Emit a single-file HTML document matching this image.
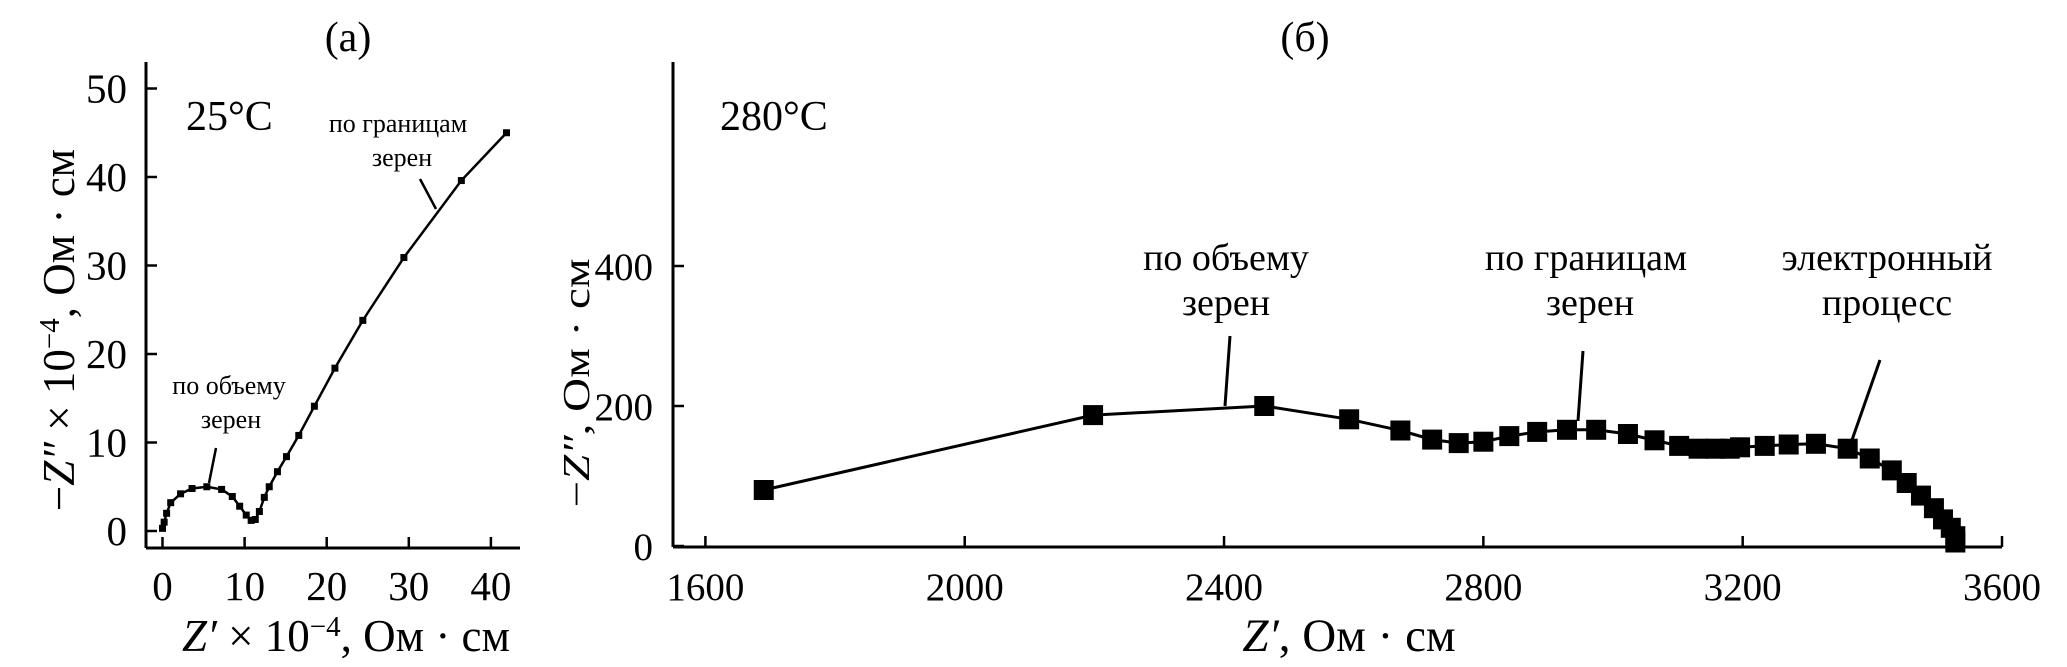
<!DOCTYPE html>
<html><head><meta charset="utf-8"><style>
html,body{margin:0;padding:0;background:#fff}
svg{display:block;font-family:"Liberation Serif","Noto Serif CJK SC",serif}
</style></head><body>
<svg id="svg" width="2067" height="667" viewBox="0 0 2067 667">
<g id="ga"></g>
<g id="gb"></g>
<text x="348" y="51" font-size="42" text-anchor="middle">(а)</text>
<text x="1305" y="51" font-size="42" text-anchor="middle">(б)</text>
<text x="186" y="130" font-size="42">25°C</text>
<text x="720" y="130" font-size="42">280°C</text>
<g font-size="26" text-anchor="middle">
<text x="398" y="132">по границам</text><text x="402" y="166">зерен</text>
<text x="229" y="394">по объему</text><text x="231" y="428">зерен</text>
</g>
<line x1="420" y1="179" x2="436" y2="209" stroke="#000" stroke-width="2.5"/>
<line x1="216" y1="448" x2="209" y2="483" stroke="#000" stroke-width="2.5"/>
<g font-size="38" text-anchor="middle">
<text x="1226" y="270">по объему</text><text x="1226" y="315">зерен</text>
<text x="1586" y="270">по границам</text><text x="1590" y="315">зерен</text>
<text x="1887" y="270">электронный</text><text x="1887" y="315">процесс</text>
</g>
<line x1="1230" y1="336" x2="1225" y2="406" stroke="#000" stroke-width="3"/>
<line x1="1583" y1="351" x2="1578" y2="421" stroke="#000" stroke-width="3"/>
<line x1="1880" y1="360" x2="1852" y2="440" stroke="#000" stroke-width="3"/>
<text x="346" y="651" font-size="45" text-anchor="middle"><tspan font-style="italic">Z′</tspan> × 10<tspan dy="-15" font-size="29">−4</tspan><tspan dy="15">, Ом · см</tspan></text>
<text transform="translate(74,330) rotate(-90)" font-size="45" text-anchor="middle">−<tspan font-style="italic">Z″</tspan> × 10<tspan dy="-15" font-size="29">−4</tspan><tspan dy="15">, Ом · см</tspan></text>
<text x="1349" y="651" font-size="47" text-anchor="middle"><tspan font-style="italic">Z′</tspan>, Ом · см</text>
<text transform="translate(589,383) rotate(-90) scale(1,0.8)" font-size="47" text-anchor="middle">−<tspan font-style="italic">Z″</tspan>, Ом · см</text>
</svg>
<script>
// Panel (a)
const aX = [0,0.2,0.5,1,2.2,3.6,5.4,7.2,8.5,9.4,10.2,10.8,11.3,11.8,12.4,13.0,14.0,15.1,16.6,18.5,21,24.4,29.4,36.4,41.9];
const aY = [0.3,1,2,3.2,4.2,4.8,5.0,4.7,3.9,2.8,1.8,1.2,1.3,2.2,3.8,5.0,6.7,8.4,10.8,14.1,18.4,23.8,30.9,39.6,45];
const aXTicks = [0,10,20,30,40];
const aYTicks = [0,10,20,30,40,50];
// Panel (б)
const bX = [1690,2198,2462,2593,2672,2721,2762,2800,2840,2883,2929,2974,3023,3064,3102,3132,3158,3180,3196,3234,3271,3313,3362,3396,3430,3453,3475,3495,3509,3521,3528,3528];
const bY = [80,187,200,181,165,152,147,149,157,163,166,166,160,151,143,139,139,139,141,143,145,146,139,125,108,90,72,54,38,26,14,5];
const bXTicks = [1600,2000,2400,2800,3200,3600];
const bYTicks = [0,200,400];

const NS="http://www.w3.org/2000/svg";
function mk(p,t,at){const e=document.createElementNS(NS,t);for(const k in at)e.setAttribute(k,at[k]);p.appendChild(e);return e;}

const axA=v=>162.5+v*8.21, ayA=v=>531-v*8.85;
const axB=v=>705.4+(v-1600)*0.6483, ayB=v=>546-v*0.7;

function panel(g,ax,ay,x0,x1,yb,yt,xt,yt2,xs,ys,sz,lw,fs,ylx){
  const yl=mk(g,'line',{x1:x0,y1:yt,x2:x0,y2:yb,stroke:'#000','stroke-width':3});
  
  
  const xl=mk(g,'line',{x1:x0,y1:yb,x2:x1,y2:yb,stroke:'#000','stroke-width':3});
  
  
  xt.forEach(v=>{
    const t=mk(g,'line',{x1:ax(v),y1:yb,x2:ax(v),y2:yb-11,stroke:'#000','stroke-width':2.5});
    
    
    const l=mk(g,'text',{x:ax(v),y:600,'font-size':fs,'text-anchor':'middle'});l.textContent=v;
    
    
  });
  yt2.forEach(v=>{
    const t=mk(g,'line',{x1:x0,y1:ay(v),x2:x0+11,y2:ay(v),stroke:'#000','stroke-width':2.5});
    
    
    const l=mk(g,'text',{x:ylx,y:ay(v)+14,'font-size':fs,'text-anchor':'end'});l.textContent=v;
    
    
  });
  const pts=xs.map((v,i)=>ax(v)+','+ay(ys[i])).join(' ');
  const pl=mk(g,'polyline',{points:pts,fill:'none',stroke:'#000','stroke-width':lw});
  
  
  xs.forEach((v,i)=>{
    const r=mk(g,'rect',{x:ax(v)-sz/2,y:ay(ys[i])-sz/2,width:sz,height:sz,fill:'#000'});
    
    
  });
}
panel(document.getElementById('ga'),axA,ayA,146,520,548,62,aXTicks,aYTicks,aX,aY,7,2.5,41,127);
panel(document.getElementById('gb'),axB,ayB,673,2002,547,62,bXTicks,bYTicks,bX,bY,20,3,39,653);
</script>
</body></html>
